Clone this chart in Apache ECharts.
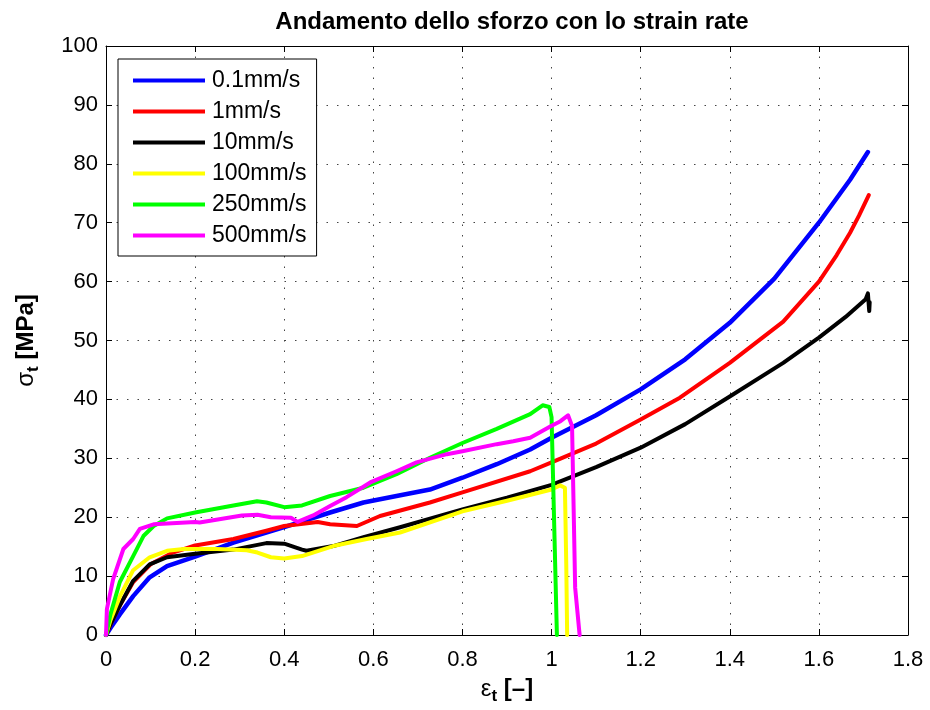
<!DOCTYPE html>
<html>
<head>
<meta charset="utf-8">
<script src="https://cdn.jsdelivr.net/npm/echarts@6/dist/echarts.min.js"></script>
<style>
  html, body { margin: 0; padding: 0; background: #fff; }
  #chart { width: 930px; height: 710px; }
</style>
</head>
<body>
<div id="chart"></div>
<script>
// Test speeds shown in the legend
const speedNames = ['0.1mm/s', '1mm/s', '10mm/s', '100mm/s', '250mm/s', '500mm/s'];
const speedColors = ['#0000ff', '#ff0000', '#000000', '#ffff00', '#00ff00', '#ff00ff'];

// True strain [-] and true stress [MPa] for each test speed
const strain01 = [0, 0.01, 0.031, 0.061, 0.098, 0.137, 0.2, 0.286, 0.4, 0.503, 0.578, 0.652, 0.727, 0.8, 0.877, 0.952, 1.0, 1.1, 1.2, 1.3, 1.4, 1.5, 1.6, 1.67, 1.71];
const stress01 = [0, 1.2, 3.5, 6.6, 9.8, 11.7, 13.3, 15.7, 18.3, 20.8, 22.5, 23.6, 24.7, 26.7, 29, 31.5, 33.5, 37.3, 41.7, 46.8, 53, 60.5, 70, 77.3, 82];

const strain1 = [0, 0.01, 0.031, 0.061, 0.1, 0.15, 0.2, 0.286, 0.36, 0.4, 0.475, 0.503, 0.563, 0.615, 0.727, 0.8, 0.952, 1.0, 1.1, 1.2, 1.288, 1.4, 1.52, 1.6, 1.64, 1.67, 1.69, 1.712];
const stress1 = [0, 1.8, 5, 9, 12, 14, 15.2, 16.3, 17.7, 18.5, 19.2, 18.8, 18.5, 20.2, 22.5, 24.2, 27.8, 29.3, 32.5, 36.6, 40.3, 46.2, 53.2, 60, 64.5, 68.3, 71.2, 74.7];

const strain10 = [0, 0.01, 0.031, 0.061, 0.098, 0.137, 0.2, 0.286, 0.36, 0.4, 0.44, 0.45, 0.51, 0.578, 0.66, 0.8, 0.9, 1.0, 1.1, 1.2, 1.3, 1.4, 1.52, 1.6, 1.66, 1.705, 1.71, 1.713, 1.714];
const stress10 = [0, 1.8, 5, 9.2, 12, 13.2, 13.8, 14.5, 15.6, 15.5, 14.5, 14.3, 15.1, 16.6, 18.3, 21.3, 23.3, 25.5, 28.5, 31.8, 35.8, 40.5, 46.2, 50.5, 54, 57, 58, 55, 56.5];

const strain100 = [0, 0.01, 0.031, 0.061, 0.098, 0.137, 0.175, 0.25, 0.316, 0.34, 0.37, 0.4, 0.44, 0.51, 0.585, 0.66, 0.8, 0.9, 1.0, 1.019, 1.03, 1.033, 1.035];
const stress100 = [0, 2.5, 6.5, 11, 13.2, 14.3, 14.6, 14.6, 14.4, 14.0, 13.2, 13, 13.4, 15.1, 16.3, 17.4, 21, 22.8, 24.7, 25.4, 25, 12, 0];

const strain250 = [0, 0.01, 0.031, 0.061, 0.084, 0.107, 0.137, 0.2, 0.286, 0.339, 0.36, 0.4, 0.44, 0.503, 0.578, 0.652, 0.727, 0.8, 0.877, 0.952, 0.98, 0.995, 1.0, 1.012];
const stress250 = [0, 3.5, 9, 13.4, 16.8, 18.5, 19.8, 20.8, 22, 22.7, 22.5, 21.7, 22, 23.6, 25, 27.3, 30.1, 32.6, 35, 37.5, 39, 38.7, 37, 0];

const strain500 = [0, 0.002, 0.016, 0.039, 0.061, 0.076, 0.107, 0.2, 0.21, 0.305, 0.34, 0.37, 0.415, 0.43, 0.465, 0.503, 0.54, 0.593, 0.652, 0.697, 0.765, 0.8, 0.877, 0.914, 0.952, 0.997, 1.02, 1.037, 1.046, 1.053, 1.063];
const stress500 = [0, 4.4, 9.5, 14.6, 16.3, 18, 18.8, 19.2, 19.1, 20.3, 20.4, 20, 19.9, 19.2, 20.3, 21.9, 23.4, 25.9, 27.8, 29.3, 30.7, 31.2, 32.4, 32.9, 33.5, 35.4, 36.3, 37.3, 35.5, 8, 0];

const strainSets = [strain01, strain1, strain10, strain100, strain250, strain500];
const stressSets = [stress01, stress1, stress10, stress100, stress250, stress500];

const FONT = '"Liberation Sans", Arial, Helvetica, sans-serif';

const chart = echarts.init(document.getElementById('chart'), null, { renderer: 'canvas' });

const gridLine = { show: true, lineStyle: { color: '#444', width: 1, type: [1.5, 9] } };
const boxLine = { show: true, onZero: false, lineStyle: { color: '#000', width: 1 } };
const tickIn = { show: true, inside: true, length: 6, lineStyle: { color: '#000', width: 1 } };

// Axis titles with a lowered subscript "t"
const axisNameRich = {
  g: { fontFamily: FONT, fontSize: 24, color: '#000', lineHeight: 24, verticalAlign: 'top' },
  s: { fontFamily: FONT, fontSize: 17, fontWeight: 'bold', color: '#000', lineHeight: 17, padding: [11, 0, 0, 0], verticalAlign: 'top' },
  b: { fontFamily: FONT, fontSize: 24, fontWeight: 'bold', color: '#000', lineHeight: 24, verticalAlign: 'top' }
};

const series = speedNames.map((name, k) => ({
  name: name,
  type: 'line',
  data: strainSets[k].map((x, i) => [x, stressSets[k][i]]),
  showSymbol: false,
  symbol: 'none',
  smooth: false,
  clip: true,
  lineStyle: { color: speedColors[k], width: k === 0 ? 4.5 : 4, join: 'round', cap: 'round' },
  itemStyle: { color: speedColors[k] },
  emphasis: { disabled: true }
}));

chart.setOption({
  animation: false,
  backgroundColor: '#ffffff',
  title: {
    text: 'Andamento dello sforzo con lo strain rate',
    left: 507,
    textAlign: 'center',
    top: 5,
    textStyle: { fontFamily: FONT, fontWeight: 'bold', fontSize: 24, color: '#000' }
  },
  grid: { left: 106, right: 22, top: 46, bottom: 74 },
  legend: {
    data: speedNames,
    orient: 'vertical',
    left: 118,
    top: 59,
    icon: 'rect',
    itemWidth: 72,
    itemHeight: 4,
    itemGap: 8,
    padding: [10, 10, 9, 15],
    backgroundColor: '#ffffff',
    borderColor: '#000',
    borderWidth: 1,
    textStyle: { fontFamily: FONT, fontSize: 23, color: '#000', padding: [0, 0, 0, 2] }
  },
  xAxis: [
    {
      type: 'value', min: 0, max: 1.8, interval: 0.2,
      position: 'bottom',
      axisLine: boxLine, axisTick: tickIn, splitLine: gridLine,
      axisLabel: {
        fontFamily: FONT, fontSize: 22, color: '#000', margin: 14,
        formatter: v => String(+v.toFixed(1))
      },
      name: '{g|ε}{s|t}{b| [–]}',
      nameLocation: 'middle',
      nameGap: 42,
      nameTextStyle: { rich: axisNameRich }
    },
    {
      type: 'value', min: 0, max: 1.8, interval: 0.2,
      position: 'top',
      axisLine: boxLine, axisTick: tickIn, splitLine: { show: false },
      axisLabel: { show: false }
    }
  ],
  yAxis: [
    {
      type: 'value', min: 0, max: 100, interval: 10,
      position: 'left',
      axisLine: boxLine, axisTick: tickIn, splitLine: gridLine,
      axisLabel: { fontFamily: FONT, fontSize: 22, color: '#000', margin: 8 },
      name: '{g|σ}{s|t}{b| [MPa]}',
      nameLocation: 'middle',
      nameGap: 68,
      nameTextStyle: { rich: axisNameRich }
    },
    {
      type: 'value', min: 0, max: 100, interval: 10,
      position: 'right',
      axisLine: boxLine, axisTick: tickIn, splitLine: { show: false },
      axisLabel: { show: false }
    }
  ],
  series: series
});
</script>
</body>
</html>
